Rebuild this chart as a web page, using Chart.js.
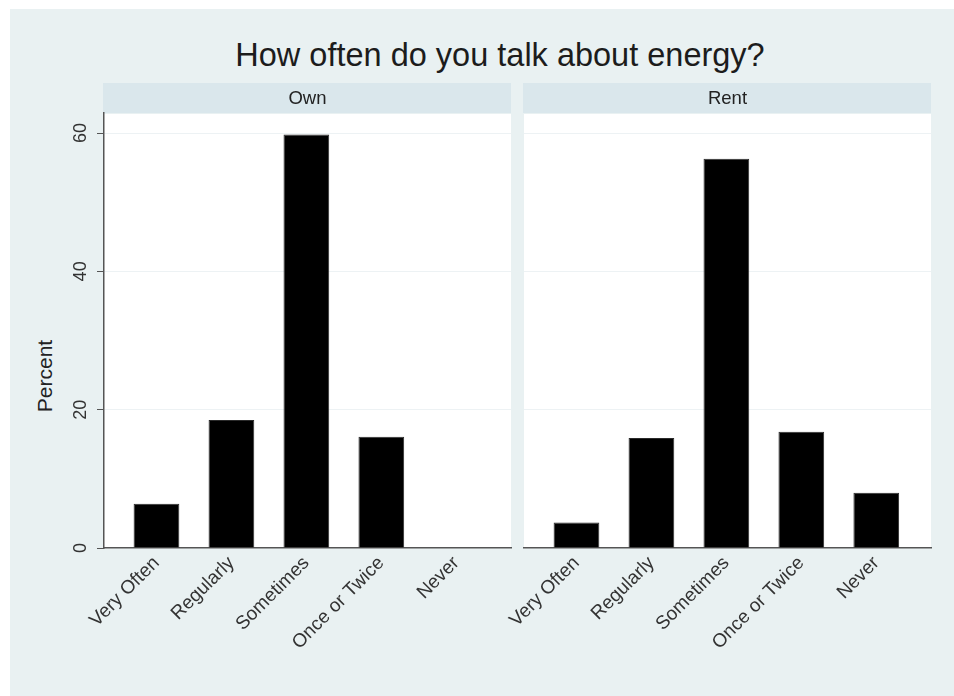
<!DOCTYPE html>
<html>
<head>
<meta charset="utf-8">
<script src="https://cdn.jsdelivr.net/npm/chart.js@4.4.1/dist/chart.umd.min.js"></script>
<style>
  html, body { margin: 0; padding: 0; background: #ffffff; width: 954px; height: 696px; overflow: hidden; }
  #wrap { position: absolute; left: 0; top: 0; width: 954px; height: 696px; }
  #bg { position: absolute; left: 10px; top: 9px; right: 0; bottom: 0; background: #e9f1f2; }
  #title { position: absolute; top: 39px; left: 500px; transform: translateX(-50%);
           font: 32.5px 'Liberation Sans', Arial, sans-serif; line-height: 32px; color: #1c1c1c; white-space: nowrap; }
  #ytitle { position: absolute; left: 43.5px; top: 376px; transform: translate(-50%, -50%) rotate(-90deg);
            font: 21px 'Liberation Sans', Arial, sans-serif; line-height: 21px; color: #222; white-space: nowrap; }
  .cv { position: absolute; left: 0; top: 0; width: 954px; height: 696px; }
</style>
</head>
<body>
<div id="wrap">
  <div id="bg"></div>
  <div id="title">How often do you talk about energy?</div>
  <div id="ytitle">Percent</div>
  <div class="cv"><canvas id="own"></canvas></div>
  <div class="cv"><canvas id="rent"></canvas></div>
</div>
<script>
const categories = ['Very Often', 'Regularly', 'Sometimes', 'Once or Twice', 'Never'];
const ownValues  = [6.4, 18.5, 59.8, 16.1, 0];
const rentValues = [3.7, 15.9, 56.3, 16.8, 8.0];
const yTicks = [0, 20, 40, 60];
const panelTitles = ['Own', 'Rent'];

const FONT = "'Liberation Sans', Arial, sans-serif";

const panelBg = {
  id: 'panelBg',
  beforeDraw(chart) {
    const a = chart.chartArea;
    const tb = chart.titleBlock;
    const ctx = chart.ctx;
    ctx.save();
    ctx.fillStyle = '#dae7ec';
    ctx.fillRect(a.left - 1, tb.top, a.right - a.left + 1, tb.bottom - tb.top);
    ctx.fillStyle = '#ffffff';
    ctx.fillRect(a.left, a.top + 1, a.right - a.left, a.bottom - a.top - 1);
    ctx.restore();
  }
};

function makePanel(id, title, values, showY, padLeft, padRight) {
  return new Chart(document.getElementById(id), {
    type: 'bar',
    data: {
      datasets: [{
        data: categories.map((c, i) => ({ x: i + 1, y: values[i] })),
        backgroundColor: '#000000',
        borderColor: '#2a2a2a',
        borderWidth: 1,
        categoryPercentage: 1,
        barPercentage: 0.61
      }]
    },
    options: {
      responsive: true,
      maintainAspectRatio: false,
      animation: false,
      layout: { padding: { left: padLeft, right: padRight, top: 83, bottom: 28 } },
      plugins: {
        legend: { display: false },
        tooltip: { enabled: false },
        title: {
          display: true, fullSize: false, text: title, color: '#222',
          font: { family: FONT, size: 18.5, weight: 'normal', lineHeight: 1.2 },
          padding: { top: 4.5, bottom: 3.3 }
        }
      },
      scales: {
        x: {
          type: 'linear', min: 0.3, max: 5.73, offset: false,
          grid: { display: false, drawTicks: false },
          border: { display: true, color: '#555', width: 1.5 },
          ticks: {
            stepSize: 1, autoSkip: false, includeBounds: false,
            minRotation: 45, maxRotation: 45, padding: 4,
            color: '#333', font: { family: FONT, size: 19 },
            callback: v => categories[Math.round(v) - 1] ?? ''
          },
          afterFit: s => { s.height = 120; }
        },
        y: {
          min: 0, max: 62.9,
          afterBuildTicks: s => { s.ticks = yTicks.map(v => ({ value: v })); },
          grid: { color: '#edf2f4', lineWidth: 1, drawTicks: showY, tickLength: 7, tickColor: '#555' },
          border: { display: showY, color: '#555', width: 1.5 },
          ticks: {
            display: showY, autoSkip: false, minRotation: 90, maxRotation: 90,
            crossAlign: 'center', padding: 6, color: '#333', font: { family: FONT, size: 18 }
          },
          afterFit: s => { s.width = showY ? 104 : 0; }
        }
      }
    },
    plugins: [panelBg]
  });
}

makePanel('own', panelTitles[0], ownValues, true, 0, 954 - 511);
makePanel('rent', panelTitles[1], rentValues, false, 524, 954 - 931);
</script>
</body>
</html>
